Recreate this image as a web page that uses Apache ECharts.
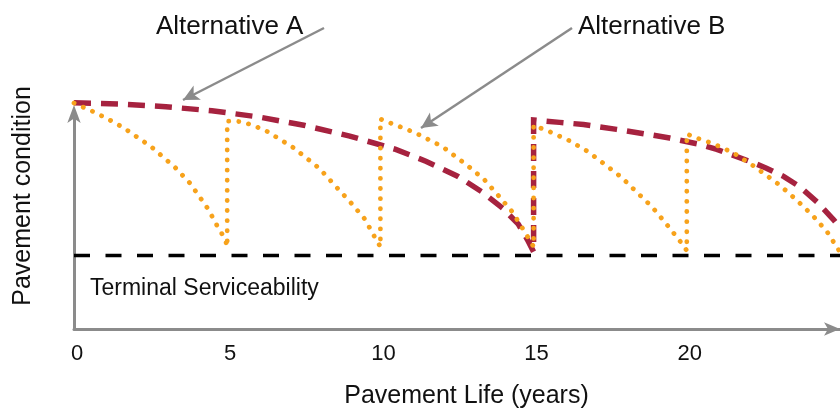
<!DOCTYPE html>
<html>
<head>
<meta charset="utf-8">
<script src="https://cdn.jsdelivr.net/npm/echarts@6/dist/echarts.min.js"></script>
<style>
  html, body { margin: 0; padding: 0; background: #ffffff; }
  #chart { width: 840px; height: 414px; }
</style>
</head>
<body>
<div id="chart"></div>
<script>
// ---- Data (years, condition index) ----
const xTickValues = [0, 5, 10, 15, 20];

// Alternative A: reconstruction at year 15
const altAYears = [0, 1.5, 3, 4.5, 6, 7.5, 9, 10.5, 11.5, 12.5, 13.3, 14, 14.5, 14.8, 15,
                   15, 15.85, 16.63, 17.71, 18.79, 19.44, 20.42, 20.98, 22.06, 22.6, 23.17, 23.69, 24.25, 24.8, 25];
const altACondition = [9.38, 9.33, 9.22, 9.05, 8.8, 8.45, 8.0, 7.45, 6.95, 6.35, 5.7, 5.0, 4.35, 3.7, 3.2,
                       8.67, 8.57, 8.48, 8.28, 8.06, 7.92, 7.66, 7.45, 6.95, 6.67, 6.32, 5.9, 5.27, 4.52, 4.2];

// Alternative B: rehabilitation every 5 years
const altBYears = [0, 0.72, 1.34, 1.67, 2.52, 3.3, 3.79, 4.38, 4.71, 4.93, 5,
                   5, 5.5, 6.22, 7.16, 8.01, 8.51, 9.02, 9.49, 9.83, 10,
                   10, 10.16, 11.13, 12.03, 12.84, 13.38, 13.84, 14.31, 14.69, 15,
                   15, 15.53, 16.17, 16.77, 17.33, 17.87, 18.37, 18.87, 19.33, 19.77, 20,
                   20, 20.2, 20.85, 21.5, 22.16, 23.04, 23.59, 24.12, 24.58, 24.93, 25];
const altBCondition = [9.37, 8.96, 8.55, 8.3, 7.56, 6.7, 6.04, 4.97, 4.19, 3.74, 3.41,
                       8.62, 8.6, 8.26, 7.52, 6.66, 5.96, 5.26, 4.56, 3.78, 3.41,
                       8.71, 8.63, 8.14, 7.56, 6.78, 6.21, 5.55, 4.85, 4.07, 3.41,
                       8.45, 8.18, 7.81, 7.36, 6.82, 6.29, 5.67, 5.06, 4.36, 3.66, 3.25,
                       8.1, 7.97, 7.69, 7.32, 6.78, 5.96, 5.34, 4.69, 4.03, 3.33, 3.2];

// Terminal serviceability level
const terminalYears = [0, 25];
const terminalLevel = [3.05, 3.05];

const labels = {
  altA: 'Alternative A',
  altB: 'Alternative B',
  terminal: 'Terminal Serviceability',
  xName: 'Pavement Life (years)',
  yName: 'Pavement condition'
};

// ---- Build ----
const zip = (xs, ys) => xs.map((x, i) => [x, ys[i]]);
const FONT = '"Liberation Sans", Arial, Helvetica, sans-serif';
const AXIS_GRAY = '#8b8b8b';

const chart = echarts.init(document.getElementById('chart'), null, { renderer: 'canvas' });

chart.setOption({
  animation: false,
  backgroundColor: '#ffffff',
  grid: { left: 74, right: 0, top: 112, bottom: 83, containLabel: false },
  xAxis: {
    type: 'value',
    min: 0,
    max: 25,
    interval: 5,
    name: labels.xName,
    nameLocation: 'middle',
    nameGap: 55,
    nameTextStyle: { fontFamily: FONT, fontSize: 25, color: '#111', padding: [0, 0, 0, 19] },
    axisLine: {
      show: true,
      lineStyle: { color: AXIS_GRAY, width: 3 },
      symbol: ['none', 'arrow'],
      symbolSize: [10, 16],
      symbolOffset: [0, 0]
    },
    axisTick: { show: false },
    splitLine: { show: false },
    axisLabel: {
      fontFamily: FONT, fontSize: 22, color: '#111', margin: 14,
      padding: [0, 0, 0, 6],
      showMaxLabel: false,
      formatter: v => (xTickValues.indexOf(v) >= 0 ? String(v) : '')
    }
  },
  yAxis: {
    type: 'value',
    min: 0,
    max: 9,
    name: labels.yName,
    nameLocation: 'middle',
    nameGap: 38,
    nameTextStyle: { fontFamily: FONT, fontSize: 25, color: '#111', padding: [0, 0, 0, 49] },
    axisLine: {
      show: true,
      onZero: false,
      lineStyle: { color: AXIS_GRAY, width: 3 },
      symbol: ['none', 'arrow'],
      symbolSize: [10, 18],
      symbolOffset: [0, 7]
    },
    axisTick: { show: false },
    axisLabel: { show: false },
    splitLine: { show: false }
  },
  series: [
    {
      name: labels.terminal,
      type: 'line',
      data: zip(terminalYears, terminalLevel),
      showSymbol: false,
      silent: true,
      clip: false,
      lineStyle: { color: '#000000', width: 3.5, type: [16, 15.5] },
      z: 1
    },
    {
      name: labels.altB,
      type: 'line',
      data: zip(altBYears, altBCondition),
      showSymbol: false,
      clip: false,
      smooth: false,
      lineStyle: { color: '#F7A21B', width: 4.8, type: [0.1, 10], cap: 'round', join: 'round' },
      z: 3
    },
    {
      name: labels.altA,
      type: 'line',
      data: zip(altAYears, altACondition),
      showSymbol: false,
      clip: false,
      smooth: false,
      lineStyle: { color: '#A6223F', width: 5.5, type: [17, 10], cap: 'butt', join: 'miter' },
      z: 2,
      markLine: {
        silent: true,
        symbol: ['none', 'arrow'],
        symbolSize: [12, 16],
        label: { show: false },
        lineStyle: { color: '#8b8b8b', width: 2.5, type: 'solid' },
        data: [
          [{ x: 324, y: 28 }, { x: 183, y: 100 }],
          [{ x: 572, y: 28 }, { x: 421, y: 128 }]
        ]
      }
    }
  ],
  graphic: [
    { type: 'text', left: 156, top: 14, style: { text: labels.altA, font: '26px ' + FONT, fill: '#111' } },
    { type: 'text', left: 578, top: 14, style: { text: labels.altB, font: '26px ' + FONT, fill: '#111' } },
    { type: 'text', left: 90, top: 277, style: { text: labels.terminal, font: '23px ' + FONT, fill: '#111' } }
  ]
});
</script>
</body>
</html>
